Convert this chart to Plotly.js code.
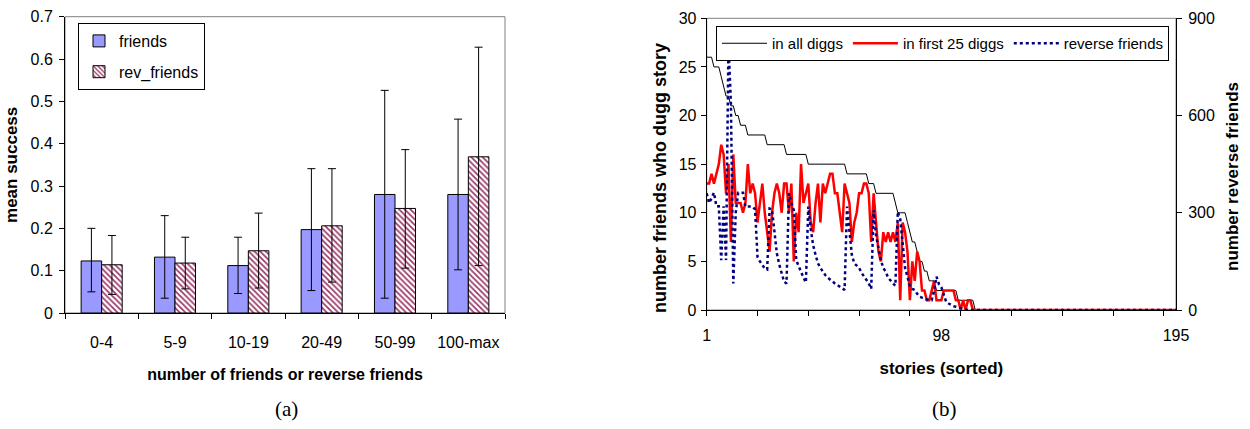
<!DOCTYPE html>
<html><head><meta charset="utf-8">
<script src="https://cdn.plot.ly/plotly-3.0.1.min.js"></script>
<style>html,body{margin:0;padding:0;background:#fff}#chart{width:1250px;height:429px}</style>
</head><body><div id="chart"></div><script>
// ---- panel (a) data ----
const groups = ['0-4','5-9','10-19','20-49','50-99','100-max'];
const friendsMean = [0.123,0.132,0.112,0.197,0.280,0.280];
const friendsErrPlus = [0.077,0.098,0.067,0.144,0.246,0.178];
const friendsErrMinus = [0.073,0.097,0.066,0.144,0.245,0.178];
const revMean = [0.114,0.118,0.147,0.206,0.247,0.369];
const revErrPlus = [0.069,0.061,0.089,0.135,0.139,0.259];
const revErrMinus = [0.070,0.061,0.088,0.133,0.141,0.257];
const yTicksA = [0,0.1,0.2,0.3,0.4,0.5,0.6,0.7];

// ---- panel (b) data ----
const allDiggs = [26,26,26,25,25,25,24,23,22,22,21,21,20,20,19,19,19,18,18,18,
18,18,18,18,18,17,17,17,17,17,17,17,17,16,16,16,16,16,16,16,
16,16,15,15,15,15,15,15,15,15,15,15,15,15,15,15,15,15,14,14,
14,14,14,14,14,14,14,13,13,13,12,12,12,12,12,12,12,12,11,10,
10,10,10,9,8,7,7,6,5,5,4,4,3,3,3,2,2,2,2,2,
2,2,2,2,1,1,1,1,1,1,1,0,0,0,0,0,0,0,0,0,
0,0,0,0,0,0,0,0,0,0,0,0,0,0,0,0,0,0,0,0,
0,0,0,0,0,0,0,0,0,0,0,0,0,0,0,0,0,0,0,0,
0,0,0,0,0,0,0,0,0,0,0,0,0,0,0,0,0,0,0,0,
0,0,0,0,0,0,0,0,0,0,0,0,0,0,0];
const first25 = [13,13,14,13,14,15,17,16,12,15,7,16,11,11,11,10,11,15,12,13,
12,9,11,13,10,8,6,10,12,13,12,10,13,13,10,13,5,10,8,15,
11,12,13,9,8,11,13,9,13,12,13,14,14,12,12,10,8,13,12,11,
7,9,10,12,12,13,13,12,7,12,9,6,5,8,7,8,7,8,7,9,
1,9,8,6,1,5,3,6,5,2,2,1,1,2,3,1,1,1,2,2,
2,2,2,1,1,0,1,0,1,1,0,0,0,0,0,0,0,0,0,0,
0,0,0,0,0,0,0,0,0,0,0,0,0,0,0,0,0,0,0,0,
0,0,0,0,0,0,0,0,0,0,0,0,0,0,0,0,0,0,0,0,
0,0,0,0,0,0,0,0,0,0,0,0,0,0,0,0,0,0,0,0,
0,0,0,0,0,0,0,0,0,0,0,0,0,0,0];
const reverseFriends = [360,330,345,362,320,320,154,320,154,822,640,82,300,362,362,362,319,319,319,319,
310,164,150,140,128,125,313,310,250,175,140,110,87,82,360,330,308,154,135,115,
100,85,319,250,200,170,144,130,118,108,100,95,88,82,77,72,66,62,319,250,
170,144,137,130,115,103,95,82,65,308,230,190,154,130,118,100,90,82,75,303,
280,200,130,103,72,65,62,50,41,38,35,32,30,30,60,103,80,70,45,25,
20,15,12,10,8,5,3,0,0,0,0,0,0,0,0,0,0,0,0,0,
0,0,0,0,0,0,0,0,0,0,0,0,0,0,0,0,0,0,0,0,
0,0,0,0,0,0,0,0,0,0,0,0,0,0,0,0,0,0,0,0,
0,0,0,0,0,0,0,0,0,0,0,0,0,0,0,0,0,0,0,0,
0,0,0,0,0,0,0,0,0,0,0,0,0,0,0];
const stories = allDiggs.map((_, i) => i + 1);
const storyTickMarks = [1,22,43,64,85,106,127,148,169,190];
const storyLabels = [1,98,195];
const yTicksB = [0,5,10,15,20,25,30];
const yTicksRev = [0,300,600,900];

const FONT = 'Liberation Sans, Arial, sans-serif';
const W = 1250, H = 429;
const px = v => v / W, py = v => (H - v) / H;

const traces = [
  {type:'bar', name:'friends', x:groups, y:friendsMean, xaxis:'x', yaxis:'y',
   legend:'legend', legendgroup:'g1',
   marker:{color:'#9999FF', line:{color:'#000000', width:1}},
   error_y:{type:'data', symmetric:false, array:friendsErrPlus, arrayminus:friendsErrMinus,
            color:'#000000', thickness:1, width:4}},
  {type:'bar', name:'rev_friends', x:groups, y:revMean, xaxis:'x', yaxis:'y',
   legend:'legend', legendgroup:'g2',
   marker:{color:'#ffffff', line:{color:'#000000', width:1},
           pattern:{shape:'\\', fgcolor:'#993366', bgcolor:'#ffffff', size:4, solidity:0.4}},
   error_y:{type:'data', symmetric:false, array:revErrPlus, arrayminus:revErrMinus,
            color:'#000000', thickness:1, width:4}},
  {type:'scatter', mode:'lines', name:'in all diggs', x:stories, y:allDiggs,
   xaxis:'x2', yaxis:'y2', legend:'legend2', line:{color:'#000000', width:1}},
  {type:'scatter', mode:'lines', name:'in first 25 diggs', x:stories, y:first25,
   xaxis:'x2', yaxis:'y2', legend:'legend2', line:{color:'#FF0000', width:2.5}},
  {type:'scatter', mode:'lines', name:'reverse friends', x:stories, y:reverseFriends,
   xaxis:'x2', yaxis:'y3', legend:'legend2', line:{color:'#000080', width:2.5, dash:'dot'}}
];

const tickFont = {family:FONT, size:16, color:'#000'};
const titleFont = {family:FONT, size:16, color:'#000', weight:'bold'};
const vTitleFont = {family:FONT, size:17, color:'#000', weight:'bold'};
const serif = {family:'Liberation Serif, DejaVu Serif, serif', size:21, color:'#000'};

const layout = {
  width:W, height:H, margin:{l:0,r:0,t:0,b:0},
  paper_bgcolor:'#ffffff', plot_bgcolor:'#ffffff',
  font:{family:FONT, color:'#000'},
  barmode:'group', bargap:0.44, bargroupgap:0,
  xaxis:{domain:[px(65), px(505)], anchor:'y', type:'category', range:[-0.5,5.5],
         showline:true, linecolor:'#000', linewidth:1, ticks:'outside', ticklen:5,
         tickcolor:'#000', tickson:'boundaries', showgrid:false, zeroline:false,
         tickfont:tickFont, ticklabelstandoff:15,
         title:{text:'number of friends or reverse friends', font:titleFont, standoff:18}},
  yaxis:{domain:[py(313), py(16.7)], anchor:'x', range:[0,0.7], tickvals:yTicksA,
         showline:true, linecolor:'#000', linewidth:1, ticks:'outside', ticklen:5,
         tickcolor:'#000', showgrid:false, zeroline:false, tickfont:tickFont, ticklabelstandoff:3,
         title:{text:'mean success', font:vTitleFont, standoff:8}},
  xaxis2:{domain:[px(706.7), px(1176)], anchor:'y2', range:[1,195],
          tickvals:storyLabels, ticktext:storyLabels.map(String), ticks:'',
          minor:{tickmode:'array', tickvals:storyTickMarks, ticks:'outside', ticklen:5,
                 tickcolor:'#000', showgrid:false},
          showline:true, linecolor:'#000', linewidth:1, showgrid:false, zeroline:false,
          tickfont:tickFont, ticklabelstandoff:11,
          title:{text:'stories (sorted)', font:vTitleFont, standoff:18}},
  yaxis2:{domain:[py(310), py(18.3)], anchor:'x2', range:[0,30], tickvals:yTicksB,
          showline:true, linecolor:'#000', linewidth:1, ticks:'outside', ticklen:5,
          tickcolor:'#000', showgrid:false, zeroline:false, tickfont:tickFont, ticklabelstandoff:1},
  yaxis3:{overlaying:'y2', anchor:'x2', side:'right', range:[0,900], tickvals:yTicksRev,
          showline:true, linecolor:'#000', linewidth:1, ticks:'outside', ticklen:5,
          tickcolor:'#000', showgrid:false, zeroline:false, tickfont:tickFont, ticklabelstandoff:3},
  legend:{x:px(78), y:py(23), xanchor:'left', yanchor:'top', bgcolor:'#ffffff',
          bordercolor:'#000', borderwidth:1, font:{family:FONT, size:16, color:'#000'},
          tracegroupgap:7, traceorder:'grouped'},
  legend2:{x:px(716), y:py(26), xanchor:'left', yanchor:'top', orientation:'h', bgcolor:'#ffffff',
           bordercolor:'#000', borderwidth:1, font:{family:FONT, size:15, color:'#000'},
           itemwidth:45},
  shapes:[
    {type:'rect', xref:'x domain', yref:'y domain', x0:0, x1:1, y0:0, y1:1,
     line:{color:'#808080', width:1}, layer:'below'},
    {type:'rect', xref:'x2 domain', yref:'y2 domain', x0:0, x1:1, y0:0, y1:1,
     line:{color:'#808080', width:1}, layer:'below'}
  ],
  annotations:[
    {text:'number friends who dugg story', xref:'paper', yref:'paper', x:px(660), y:py(178),
     xanchor:'center', yanchor:'middle', textangle:-90, showarrow:false,
     font:{family:FONT, size:18, color:'#000', weight:'bold'}},
    {text:'number reverse friends', xref:'paper', yref:'paper', x:px(1232), y:py(177),
     xanchor:'center', yanchor:'middle', textangle:-90, showarrow:false,
     font:{family:FONT, size:17, color:'#000', weight:'bold'}},
    {text:'(a)', xref:'paper', yref:'paper', x:px(286), y:py(409), xanchor:'center', yanchor:'middle',
     showarrow:false, font:serif},
    {text:'(b)', xref:'paper', yref:'paper', x:px(944), y:py(409), xanchor:'center', yanchor:'middle',
     showarrow:false, font:serif}
  ],
  showlegend:true
};

Plotly.newPlot('chart', traces, layout, {staticPlot:true, displayModeBar:false});
</script></body></html>
